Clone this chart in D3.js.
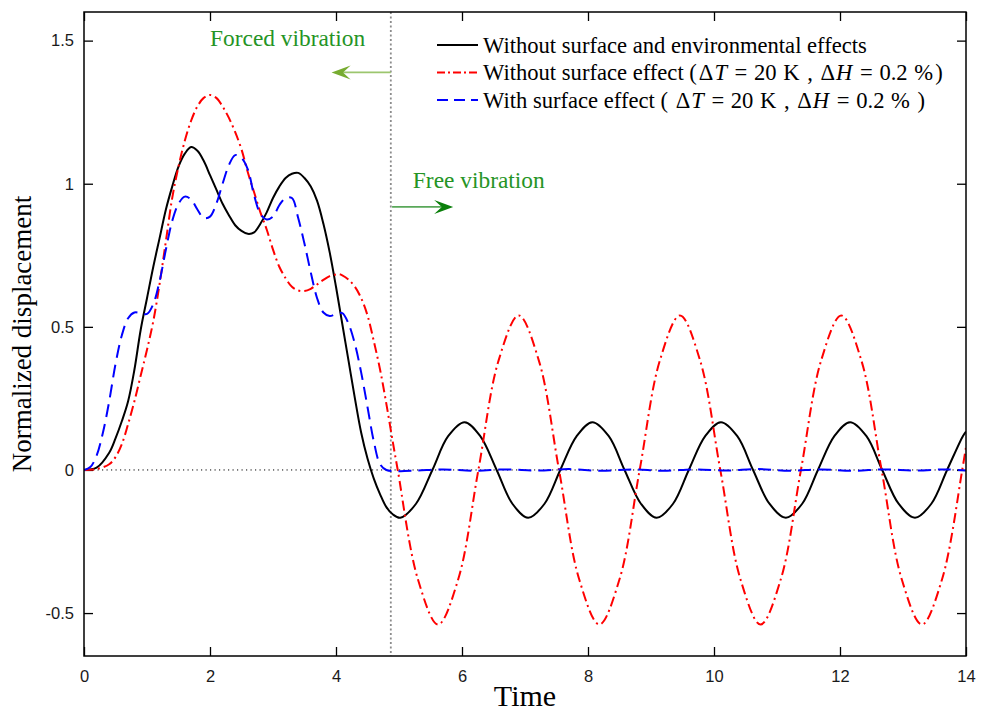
<!DOCTYPE html>
<html>
<head>
<meta charset="utf-8">
<script src="https://cdn.jsdelivr.net/npm/d3@7"></script>
<style>
  body { margin: 0; background: #fff; }
  svg { display: block; }
</style>
</head>
<body>
<div id="chart"></div>
<script>
// time / normalized displacement
var blackT = [0, 0.2, 0.4, 0.5, 0.6, 0.7, 0.8, 0.9, 1.0, 1.1, 1.2, 1.3, 1.4, 1.5, 1.6, 1.7, 1.8, 1.9, 2.0, 2.1, 2.2, 2.3, 2.4, 2.5, 2.6, 2.7, 2.8, 2.9, 3.0, 3.1, 3.2, 3.3, 3.4, 3.5, 3.6, 3.7, 3.8, 3.9, 4.0, 4.1, 4.2, 4.3, 4.4, 4.5, 4.6, 4.7, 4.8, 4.9,
  5.02, 5.27, 5.53, 5.78, 6.04, 6.29, 6.55, 6.80, 7.05, 7.31, 7.56, 7.82, 8.07, 8.33, 8.58, 8.84, 9.09, 9.35, 9.60, 9.86, 10.11, 10.37, 10.62, 10.88, 11.14, 11.40, 11.65, 11.91, 12.16, 12.42, 12.67, 12.93, 13.19, 13.45, 13.70, 13.95, 14.0];
var blackY = [0, 0.008, 0.06, 0.11, 0.17, 0.24, 0.35, 0.49, 0.6, 0.71, 0.81, 0.91, 0.99, 1.06, 1.105, 1.128, 1.115, 1.08, 1.03, 0.98, 0.93, 0.89, 0.855, 0.835, 0.825, 0.83, 0.86, 0.9, 0.95, 0.99, 1.02, 1.035, 1.038, 1.02, 0.99, 0.94, 0.86, 0.76, 0.64, 0.51, 0.38, 0.25, 0.13, 0.04, -0.03, -0.085, -0.13, -0.155,
  -0.167, -0.118, 0, 0.118, 0.167, 0.118, 0, -0.118, -0.167, -0.118, 0, 0.118, 0.167, 0.118, 0, -0.118, -0.167, -0.118, 0, 0.118, 0.167, 0.118, 0, -0.118, -0.167, -0.118, 0, 0.118, 0.167, 0.118, 0, -0.118, -0.167, -0.118, 0, 0.118, 0.134];

var redT = [0, 0.2, 0.4, 0.5, 0.6, 0.7, 0.8, 0.9, 1.0, 1.1, 1.2, 1.3, 1.4, 1.5, 1.6, 1.7, 1.8, 1.9, 2.0, 2.1, 2.2, 2.3, 2.4, 2.5, 2.6, 2.7, 2.8, 2.9, 3.0, 3.1, 3.2, 3.3, 3.4, 3.5, 3.6, 3.7, 3.8, 3.9, 4.0, 4.05, 4.1, 4.2, 4.3, 4.4, 4.5, 4.6, 4.7, 4.8, 4.9,
  4.98, 5.30, 5.62, 5.94, 6.26, 6.58, 6.90, 7.22, 7.54, 7.86, 8.18, 8.50, 8.82, 9.14, 9.46, 9.78, 10.10, 10.42, 10.74, 11.06, 11.38, 11.70, 12.02, 12.34, 12.66, 12.98, 13.30, 13.62, 13.94, 14.0];
var redY = [0, 0.003, 0.02, 0.045, 0.09, 0.16, 0.24, 0.33, 0.42, 0.52, 0.65, 0.8, 0.95, 1.06, 1.15, 1.22, 1.27, 1.3, 1.31, 1.3, 1.27, 1.23, 1.18, 1.12, 1.04, 0.97, 0.9, 0.84, 0.77, 0.71, 0.67, 0.64, 0.627, 0.625, 0.633, 0.648, 0.664, 0.677, 0.683, 0.684, 0.68, 0.665, 0.64, 0.6, 0.54, 0.45, 0.35, 0.23, 0.1,
  0, -0.382, -0.54, -0.382, 0, 0.382, 0.54, 0.382, 0, -0.382, -0.54, -0.382, 0, 0.382, 0.54, 0.382, 0, -0.382, -0.54, -0.382, 0, 0.382, 0.54, 0.382, 0, -0.382, -0.54, -0.382, 0, 0.08];

var blueT = [0, 0.1, 0.2, 0.3, 0.4, 0.5, 0.6, 0.7, 0.8, 0.9, 1.0, 1.1, 1.2, 1.3, 1.4, 1.5, 1.6, 1.7, 1.8, 1.9, 2.0, 2.1, 2.2, 2.3, 2.4, 2.5, 2.6, 2.7, 2.8, 2.9, 3.0, 3.1, 3.2, 3.3, 3.4, 3.5, 3.6, 3.7, 3.8, 3.9, 4.0, 4.1, 4.2, 4.3, 4.4, 4.5, 4.6, 4.7, 4.8,
  5.2, 5.7, 6.2, 6.7, 7.2, 7.7, 8.2, 8.7, 9.2, 9.7, 10.2, 10.7, 11.2, 11.7, 12.2, 12.7, 13.2, 13.7, 14.0];
var blueY = [0, 0.01, 0.05, 0.13, 0.24, 0.37, 0.47, 0.53, 0.55, 0.548, 0.545, 0.58, 0.66, 0.77, 0.87, 0.93, 0.955, 0.945, 0.91, 0.88, 0.885, 0.93, 1.0, 1.065, 1.1, 1.09, 1.05, 0.96, 0.895, 0.875, 0.885, 0.925, 0.95, 0.95, 0.88, 0.79, 0.69, 0.6, 0.55, 0.538, 0.545, 0.548, 0.51, 0.44, 0.34, 0.22, 0.1, 0.02, 0,
  -0.003, 0.002, -0.003, 0.002, -0.002, 0.003, -0.003, 0.002, -0.003, 0.002, -0.002, 0.003, -0.003, 0.002, -0.003, 0.002, -0.002, 0.002, -0.002];

var xTicks = [0, 2, 4, 6, 8, 10, 12, 14];
var yTicks = [-0.5, 0, 0.5, 1, 1.5];
var yTickLabels = ["-0.5", "0", "0.5", "1", "1.5"];
var legendLabels = ["Without surface and environmental effects", "Without surface effect", "With surface effect"];
var switchTime = 4.87;

var W = 984, H = 714;
var margin = {left: 84, right: 18, top: 12, bottom: 58};
var pw = W - margin.left - margin.right, ph = H - margin.top - margin.bottom;

var svg = d3.select("#chart").append("svg")
            .attr("width", W)
            .attr("height", H)
            .style("background", "#fff");

var x = d3.scaleLinear().domain([0, 14]).range([0, pw]);
var y = d3.scaleLinear().domain([-0.65, 1.6]).range([ph, 0]);

var g = svg.append("g").attr("transform", "translate(" + margin.left + "," + margin.top + ")");

g.append("clipPath").attr("id", "clip")
  .append("rect").attr("width", pw).attr("height", ph);

// axes, ticks inside on all four sides
var ax = g.append("g").attr("transform", "translate(0," + ph + ")")
          .call(d3.axisBottom(x).tickValues(xTicks).tickSizeInner(-9).tickSizeOuter(0).tickPadding(14));
var ay = g.append("g")
          .call(d3.axisLeft(y).tickValues(yTicks).tickFormat(function(d, i) { return yTickLabels[i]; })
                 .tickSizeInner(-9).tickSizeOuter(0).tickPadding(10));
var at = g.append("g")
          .call(d3.axisTop(x).tickValues(xTicks).tickSizeInner(-9).tickSizeOuter(0).tickFormat(""));
var ar = g.append("g").attr("transform", "translate(" + pw + ",0)")
          .call(d3.axisRight(y).tickValues(yTicks).tickSizeInner(-9).tickSizeOuter(0).tickFormat(""));

[ax, ay, at, ar].forEach(function(a) {
  a.attr("font-size", 16.5).attr("font-family", "'Liberation Sans', Arial, sans-serif");
  a.select(".domain").remove();
  a.selectAll(".tick line").attr("stroke", "#000").attr("stroke-width", 1.3);
  a.selectAll(".tick text").attr("fill", "#1a1a1a");
});

var plot = g.append("g").attr("clip-path", "url(#clip)");

// zero line
plot.append("line")
    .attr("x1", x(0)).attr("x2", x(14))
    .attr("y1", y(0)).attr("y2", y(0))
    .attr("stroke", "#000").attr("stroke-width", 1)
    .attr("stroke-dasharray", "1.2,3.3");

// forced / free boundary
plot.append("line")
    .attr("x1", x(switchTime)).attr("x2", x(switchTime))
    .attr("y1", y(1.6)).attr("y2", y(-0.65))
    .attr("stroke", "#8c8c8c").attr("stroke-width", 1.8)
    .attr("stroke-dasharray", "2,2.5");

var line = d3.line()
             .x(function(d) { return x(d[0]); })
             .y(function(d) { return y(d[1]); })
             .curve(d3.curveCatmullRom.alpha(0.5));

function zip(ts, ys) { return ts.map(function(t, i) { return [t, ys[i]]; }); }

var series = [
  {pts: zip(blackT, blackY), color: "#000", dash: null},
  {pts: zip(redT, redY), color: "#ff0000", dash: "10,4,2,4"},
  {pts: zip(blueT, blueY), color: "#0000ff", dash: "13,7"}
];

plot.selectAll("path.curve")
    .data(series)
    .enter()
    .append("path")
    .attr("class", "curve")
    .attr("d", function(d) { return line(d.pts); })
    .attr("fill", "none")
    .attr("stroke", function(d) { return d.color; })
    .attr("stroke-width", 2)
    .attr("stroke-dasharray", function(d) { return d.dash; });

// frame
g.append("rect")
 .attr("width", pw).attr("height", ph)
 .attr("fill", "none").attr("stroke", "#000").attr("stroke-width", 1.5);

// annotations
function arrow(t0, t1, yv, lineColor, headColor) {
  var x0 = x(t0), x1 = x(t1), yy = y(yv);
  var dir = x1 > x0 ? 1 : -1;
  var L = 19, hw = 7;
  g.append("line")
   .attr("x1", x0).attr("x2", x1 - dir * L * 0.6)
   .attr("y1", yy).attr("y2", yy)
   .attr("stroke", lineColor).attr("stroke-width", 1.6);
  g.append("path")
   .attr("d", "M" + x1 + "," + yy +
              "L" + (x1 - dir * L) + "," + (yy - hw) +
              "L" + (x1 - dir * L * 0.6) + "," + yy +
              "L" + (x1 - dir * L) + "," + (yy + hw) + "Z")
   .attr("fill", headColor);
}

arrow(switchTime, 3.93, 1.389, "#9cc66e", "#77ac30");
arrow(switchTime + 0.02, 5.86, 0.919, "#5aa85a", "#0a7f0a");

var serif = "'Liberation Serif', 'Times New Roman', serif";

g.append("text")
 .attr("x", x(2.0)).attr("y", y(1.48))
 .attr("fill", "#259425")
 .style("font-family", serif).style("font-size", "23.4px")
 .text("Forced vibration");

g.append("text")
 .attr("x", x(5.22)).attr("y", y(0.985))
 .attr("fill", "#259425")
 .style("font-family", serif).style("font-size", "23.4px")
 .text("Free vibration");

// legend
var legend = svg.append("g").attr("transform", "translate(437,45)");
var rowH = 27.5;

series.forEach(function(s, i) {
  legend.append("line")
        .attr("x1", 0).attr("x2", 41)
        .attr("y1", i * rowH).attr("y2", i * rowH)
        .attr("stroke", s.color).attr("stroke-width", 2)
        .attr("stroke-dasharray", i === 1 ? "8,3,2,3" : (i === 2 ? "11,6" : null));
});

// parts: [text, italic, extra gap before]
function legendText(i, parts) {
  var t = legend.append("text")
                .attr("x", 46).attr("y", i * rowH + 7.5)
                .style("font-family", serif).style("font-size", "22.6px")
                .attr("fill", "#000");
  parts.forEach(function(p) {
    t.append("tspan")
     .attr("dx", p[2] || 0)
     .style("font-style", p[1] ? "italic" : "normal")
     .text(p[0]);
  });
}

function mathParts(close) {
  return [["\u0394", false, 2], ["T", true, 1], [" = ", false, 2], ["20", false, 1], [" K", false, 1], [" ,", false, 2],
          [" \u0394", false, 2], ["H", true, 1], [" = ", false, 2], ["0.2", false, 1], [" %", false, 1], [close, false, 2]];
}

legendText(0, [[legendLabels[0], false]]);
legendText(1, [[legendLabels[1] + " (", false]].concat(mathParts(")")));
legendText(2, [[legendLabels[2] + " ( ", false]].concat(mathParts(" )")));

// axis titles
svg.append("text")
   .attr("x", margin.left + pw / 2).attr("y", 706)
   .attr("text-anchor", "middle")
   .style("font-family", serif).style("font-size", "30px")
   .text("Time");

svg.append("text")
   .attr("transform", "translate(31," + (margin.top + ph / 2) + ")rotate(-90)")
   .attr("text-anchor", "middle")
   .style("font-family", serif).style("font-size", "27px")
   .text("Normalized displacement");
</script>
</body>
</html>
